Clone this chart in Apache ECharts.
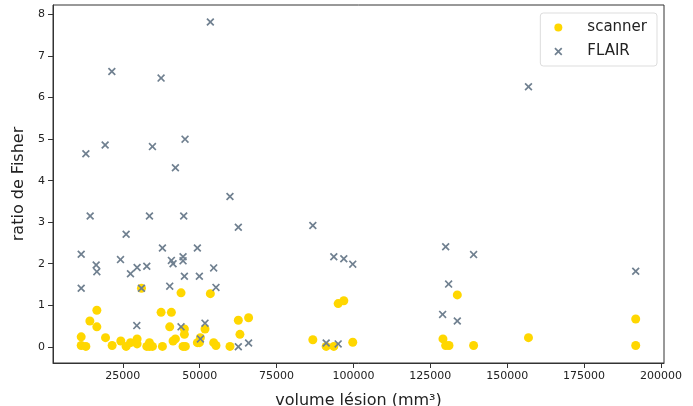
<!DOCTYPE html>
<html>
<head>
<meta charset="utf-8">
<script src="https://cdn.jsdelivr.net/npm/echarts@6/dist/echarts.min.js"></script>
<style>html,body{margin:0;padding:0;background:#fff}#c{width:693px;height:406px}</style>
</head>
<body>
<div id="c"></div>
<script>
const xTicks = [25000, 50000, 75000, 100000, 125000, 150000, 175000, 200000];
const yTicks = [0, 1, 2, 3, 4, 5, 6, 7, 8];

const scannerX = [11470, 11470, 12990, 14290, 16560, 16560, 19380, 21530, 24350, 26080, 27500, 29650, 29650, 31070, 32800, 33670, 33670, 34640, 37450, 37890, 40260, 40800, 41340, 42110, 43940, 44590, 45350, 45030, 45030, 49250, 49900, 50230, 51730, 53470, 54550, 55300, 59850, 62570, 63090, 65910, 86800, 91140, 93620, 95040, 96870, 99780, 129120, 130000, 131080, 133780, 139080, 156930, 191800, 191800];
const scannerY = [0.24, 0.03, 0.01, 0.62, 0.88, 0.48, 0.22, 0.03, 0.14, 0.01, 0.10, 0.19, 0.07, 1.41, 0.01, 0.10, 0.01, 0.01, 0.83, 0.01, 0.48, 0.83, 0.14, 0.19, 1.30, 0.01, 0.01, 0.43, 0.30, 0.10, 0.10, 0.22, 0.43, 1.28, 0.10, 0.03, 0.01, 0.64, 0.30, 0.70, 0.17, 0.01, 0.01, 1.04, 1.11, 0.11, 0.19, 0.03, 0.03, 1.25, 0.03, 0.22, 0.67, 0.03];

const flairX = [12990, 19260, 21430, 34640, 37450, 45240, 42110, 53470, 59850, 14390, 26080, 33670, 44810, 11470, 16340, 16560, 24250, 27500, 29650, 32800, 37890, 40800, 41340, 44590, 44590, 49250, 45030, 49900, 54550, 55300, 11470, 31070, 40260, 29550, 43940, 51730, 50230, 62570, 62570, 86800, 93620, 96870, 99780, 130000, 130960, 129010, 133780, 65910, 91140, 95040, 139080, 191800, 156930];
const flairY = [4.65, 4.86, 6.63, 4.82, 6.47, 5.00, 4.31, 7.82, 3.62, 3.15, 2.71, 3.15, 3.15, 2.23, 1.97, 1.81, 2.10, 1.76, 1.91, 1.94, 2.38, 2.08, 2.00, 2.17, 2.07, 2.38, 1.70, 1.70, 1.90, 1.43, 1.41, 1.41, 1.46, 0.51, 0.48, 0.57, 0.19, 0.00, 2.88, 2.92, 2.17, 2.12, 1.99, 2.41, 1.51, 0.78, 0.62, 0.09, 0.09, 0.07, 2.22, 1.82, 6.26];

const crossPath = 'path://M1.5,0 L5,3.5 L8.5,0 L10,1.5 L6.5,5 L10,8.5 L8.5,10 L5,6.5 L1.5,10 L0,8.5 L3.5,5 L0,1.5 Z';
const font = 'DejaVu Sans';

const chart = echarts.init(document.getElementById('c'));
chart.setOption({
  animation: false,
  backgroundColor: '#fff',
  grid: { left: 53, right: 29, top: 5, bottom: 43, show: true, borderColor: '#333', borderWidth: 1, containLabel: false, outerBoundsMode: 'none' },
  legend: {
    right: 36, top: 13, orient: 'vertical',
    backgroundColor: '#fff', borderColor: '#ddd', borderWidth: 1, borderRadius: 3,
    padding: [7, 10, 7, 14], itemGap: 9, itemWidth: 24, itemHeight: 8,
    symbolKeepAspect: true,
    textStyle: { fontFamily: font, fontSize: 15, color: '#222', padding: [0, 0, 0, 12] },
    data: [{ name: 'scanner', icon: 'circle' }, { name: 'FLAIR', icon: crossPath }]
  },
  xAxis: {
    type: 'value', min: 2300, max: 201000,
    name: 'volume lésion (mm³)', nameLocation: 'middle', nameGap: 30,
    nameTextStyle: { fontFamily: font, fontSize: 16, color: '#222' },
    splitLine: { show: false },
    axisLine: { show: true, onZero: false, lineStyle: { color: '#333', width: 1 } },
    axisTick: { show: true, inside: false, length: 5, customValues: xTicks, lineStyle: { color: '#333', width: 1 } },
    axisLabel: { customValues: xTicks, formatter: v => String(v), fontFamily: font, fontSize: 11, color: '#222', margin: 8 }
  },
  yAxis: {
    type: 'value', min: -0.39, max: 8.23,
    name: 'ratio de Fisher', nameLocation: 'middle', nameGap: 19,
    nameTextStyle: { fontFamily: font, fontSize: 16, color: '#222' },
    splitLine: { show: false },
    axisLine: { show: true, onZero: false, lineStyle: { color: '#333', width: 1 } },
    axisTick: { show: true, inside: false, length: 5, customValues: yTicks, lineStyle: { color: '#333', width: 1 } },
    axisLabel: { customValues: yTicks, formatter: v => String(v), fontFamily: font, fontSize: 11, color: '#222', margin: 8 }
  },
  series: [
    {
      name: 'scanner', type: 'scatter', symbol: 'circle', symbolSize: 9,
      itemStyle: { color: '#FFD700', opacity: 1 },
      data: scannerX.map((x, i) => [x, scannerY[i]])
    },
    {
      name: 'FLAIR', type: 'scatter', symbol: crossPath, symbolSize: 8,
      itemStyle: { color: '#708090', opacity: 1 },
      data: flairX.map((x, i) => [x, flairY[i]])
    }
  ]
});
</script>
</body>
</html>
